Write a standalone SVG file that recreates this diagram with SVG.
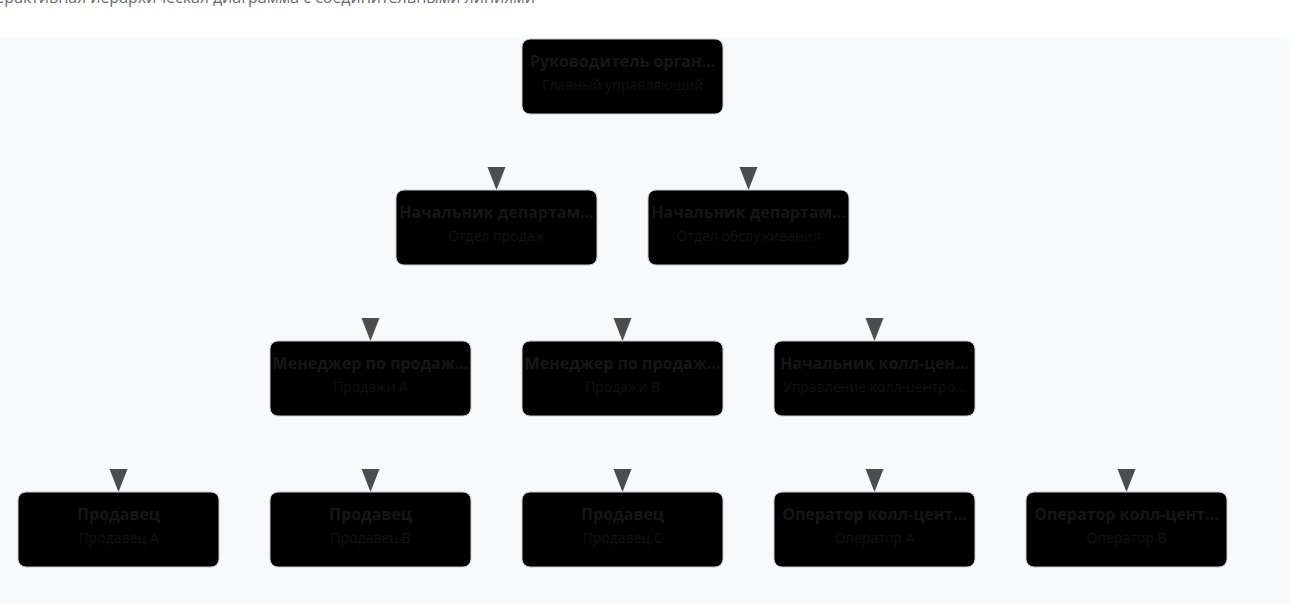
<svg xmlns="http://www.w3.org/2000/svg" width="1300" height="604" viewBox="0 0 1300 604">
  <style>
    .panel { fill: #f8f9fb; }
    .box { fill: #000000; stroke: #c8c8c8; stroke-width: 1; }
    .title { font-family: "Open Sans", "Noto Sans", sans-serif; font-size: 16px; font-weight: bold; fill: #161616; text-anchor: middle; }
    .sub { font-family: "Open Sans", "Noto Sans", sans-serif; font-size: 14px; fill: #111111; text-anchor: middle; }
    .head { font-family: "Open Sans", "Noto Sans", sans-serif; font-size: 16px; fill: #6b6b6b; }
    .arrow { fill: #4d4d4d; }
  </style>
  <rect x="0" y="0" width="1300" height="604" fill="#ffffff"/>
  <text class="head" x="535" y="3" text-anchor="end">Интерактивная иерархическая диаграмма с соединительными линиями</text>
  <rect class="panel" x="-10" y="38" width="1300" height="580" rx="8"/>

  <g id="connectors">
    <polygon class="arrow" points="487.5,167 505.5,167 496.5,190"/>
    <polygon class="arrow" points="739.5,167 757.5,167 748.5,190"/>
    <polygon class="arrow" points="361.5,318 379.5,318 370.5,341"/>
    <polygon class="arrow" points="613.5,318 631.5,318 622.5,341"/>
    <polygon class="arrow" points="865.5,318 883.5,318 874.5,341"/>
    <polygon class="arrow" points="109.5,469 127.5,469 118.5,492"/>
    <polygon class="arrow" points="361.5,469 379.5,469 370.5,492"/>
    <polygon class="arrow" points="613.5,469 631.5,469 622.5,492"/>
    <polygon class="arrow" points="865.5,469 883.5,469 874.5,492"/>
    <polygon class="arrow" points="1117.5,469 1135.5,469 1126.5,492"/>
  </g>

  <g id="ceo">
    <rect class="box" x="522" y="39" width="201" height="75" rx="8"/>
    <text class="title" x="622.5" y="67">Руководитель орган…</text>
    <text class="sub" x="622.5" y="90">Главный управляющий</text>
  </g>
  <g id="dept-sales">
    <rect class="box" x="396" y="190" width="201" height="75" rx="8"/>
    <text class="title" x="496.5" y="218">Начальник департам…</text>
    <text class="sub" x="496.5" y="241">Отдел продаж</text>
  </g>
  <g id="dept-service">
    <rect class="box" x="648" y="190" width="201" height="75" rx="8"/>
    <text class="title" x="748.5" y="218">Начальник департам…</text>
    <text class="sub" x="748.5" y="241">Отдел обслуживания</text>
  </g>
  <g id="mgr-a">
    <rect class="box" x="270" y="341" width="201" height="75" rx="8"/>
    <text class="title" x="370.5" y="369">Менеджер по продаж…</text>
    <text class="sub" x="370.5" y="392">Продажи A</text>
  </g>
  <g id="mgr-b">
    <rect class="box" x="522" y="341" width="201" height="75" rx="8"/>
    <text class="title" x="622.5" y="369">Менеджер по продаж…</text>
    <text class="sub" x="622.5" y="392">Продажи B</text>
  </g>
  <g id="callcenter-head">
    <rect class="box" x="774" y="341" width="201" height="75" rx="8"/>
    <text class="title" x="874.5" y="369">Начальник колл-цен…</text>
    <text class="sub" x="874.5" y="392">Управление колл-центро…</text>
  </g>
  <g id="seller-a">
    <rect class="box" x="18" y="492" width="201" height="75" rx="8"/>
    <text class="title" x="118.5" y="520">Продавец</text>
    <text class="sub" x="118.5" y="543">Продавец A</text>
  </g>
  <g id="seller-b">
    <rect class="box" x="270" y="492" width="201" height="75" rx="8"/>
    <text class="title" x="370.5" y="520">Продавец</text>
    <text class="sub" x="370.5" y="543">Продавец B</text>
  </g>
  <g id="seller-c">
    <rect class="box" x="522" y="492" width="201" height="75" rx="8"/>
    <text class="title" x="622.5" y="520">Продавец</text>
    <text class="sub" x="622.5" y="543">Продавец C</text>
  </g>
  <g id="operator-a">
    <rect class="box" x="774" y="492" width="201" height="75" rx="8"/>
    <text class="title" x="874.5" y="520">Оператор колл-цент…</text>
    <text class="sub" x="874.5" y="543">Оператор A</text>
  </g>
  <g id="operator-b">
    <rect class="box" x="1026" y="492" width="201" height="75" rx="8"/>
    <text class="title" x="1126.5" y="520">Оператор колл-цент…</text>
    <text class="sub" x="1126.5" y="543">Оператор B</text>
  </g>
</svg>
